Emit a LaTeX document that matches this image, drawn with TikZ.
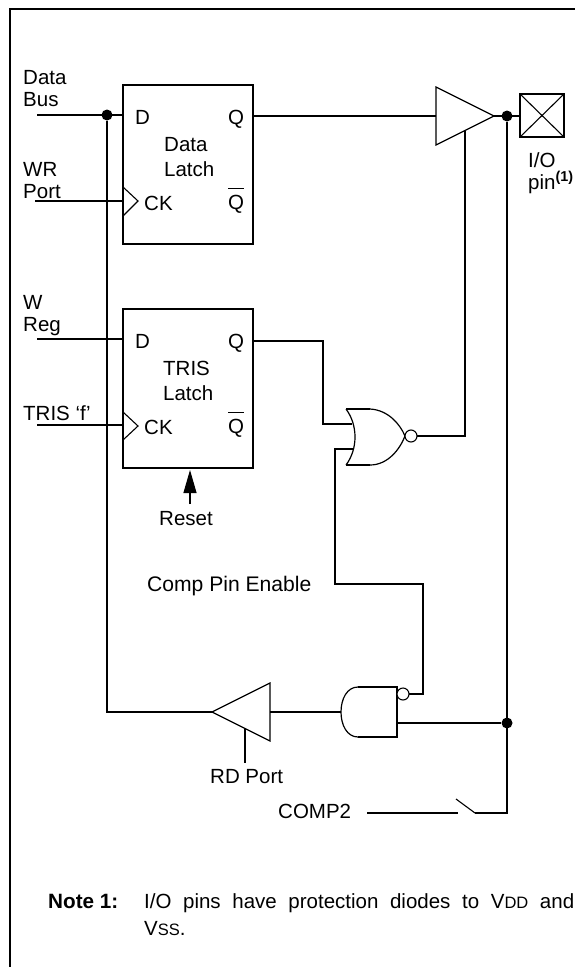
\documentclass[tikz,border=0pt]{standalone}
\usepackage{fontspec}
\setmainfont{Liberation Sans}
\usetikzlibrary{arrows.meta,shapes.geometric}
\newcommand{\qbar}{\rlap{\rule[19.6pt]{16pt}{1.6pt}}Q}
\tikzset{
	wire/.style={line width=2pt,line join=miter},
	gate/.style={line width=1.2pt},
	thinwire/.style={line width=1.1pt},
	latchbox/.style={draw,line width=2pt,minimum width=130pt,minimum height=159pt,inner sep=0pt,outer sep=0pt},
	bufgate/.style={draw,line width=1.2pt,isosceles triangle,isosceles triangle stretches,minimum height=58pt,minimum width=58pt,inner sep=0pt,outer sep=0pt},
	dot/.style={circle,fill=black,inner sep=0pt,minimum size=11pt},
	bubble/.style={circle,draw,fill=white,line width=1.1pt,inner sep=0pt,minimum size=12pt,outer sep=0pt},
	lbl/.style={anchor=base west,inner sep=0pt,font=\fontsize{20.5}{22}\selectfont},
	lbltwo/.style={anchor=north west,inner sep=0pt,align=left,font=\fontsize{20.5}{22}\selectfont}
}
\begin{document}
\begin{tikzpicture} [x=1pt,y=-1pt]
	\useasboundingbox (0,0) rectangle (575,967);
	% frame
	\coordinate (frameright) at (575,9);
	\coordinate (framecorner) at (10,9);
	\coordinate (framebottom) at (10,967);
	\draw [wire] (frameright) -- (framecorner) -- (framebottom);

	% latches
	\node [latchbox] (datalatch) at (188,164.5) {};
	\node [latchbox] (trislatch) at (188,388.5) {};
	\node [lbl] (datad) at (135,124) {D};
	\node [lbl] (dataq) at (228,124) {Q};
	\node [lbl] (datack) at (144,210) {CK};
	\node [lbl] (datanq) at (228,209) {\qbar};
	\node [lbltwo] (dataname) at (164,137) {Data\\[3pt]Latch};
	\node [lbl] (trisd) at (135,348) {D};
	\node [lbl] (trisq) at (228,348) {Q};
	\node [lbl] (trisck) at (144,434) {CK};
	\node [lbl] (trisnq) at (228,433) {\qbar};
	\node [lbltwo] (trisname) at (163,361) {TRIS\\[3pt]Latch};

	% clock marks
	\coordinate (dcktop) at (123,187);
	\coordinate (dcktip) at (138,201);
	\coordinate (dckbot) at (123,216);
	\coordinate (tcktop) at (123,412);
	\coordinate (tcktip) at (138,426);
	\coordinate (tckbot) at (123,440);
	\draw [thinwire] (dcktop) -- (dcktip) -- (dckbot);
	\draw [thinwire] (tcktop) -- (tcktip) -- (tckbot);

	% gates
	\node [bufgate,anchor=apex] (outbuf) at (494,116) {};
	\node [bufgate,shape border rotate=180,anchor=apex] (rdbuf) at (212,712) {};
	\coordinate (nortl) at (346,409);
	\coordinate (nortr) at (370,409);
	\coordinate (nortip) at (405,436);
	\coordinate (norbr) at (370,465);
	\coordinate (norbl) at (346,465);
	\draw [gate] (nortr) .. controls (388,410) and (400,424) .. (nortip) .. controls (400,449) and (388,465) .. (norbr);
	\draw [gate] (norbl) .. controls (358,449) and (358,425) .. (nortl);
	\draw [wire] (nortl) -- (nortr);
	\draw [wire] (norbl) -- (norbr);
	\node [bubble] (norbub) at (411,436) {};
	\coordinate (andtl) at (358,687);
	\coordinate (andtr) at (397,687);
	\coordinate (andbr) at (397,737);
	\coordinate (andbl) at (358,737);
	\coordinate (andin) at (341,712);
	\draw [gate] (andtl) .. controls (347,687) and (341,699) .. (andin) .. controls (341,725) and (347,737) .. (andbl);
	\draw [wire] (andtl) -- (andtr) -- (andbr) -- (andbl);
	\node [bubble] (andbub) at (403,694) {};

	% pin
	\node [draw,line width=2pt,minimum width=44pt,minimum height=43pt,inner sep=0pt,outer sep=0pt] (iopin) at (542,115.5) {};
	\draw [thinwire] (iopin.north west) -- (iopin.south east);
	\draw [thinwire] (iopin.north east) -- (iopin.south west);

	% dots
	\node [dot] (busdot) at (107,115) {};
	\node [dot] (pindot) at (507,116) {};
	\node [dot] (anddot) at (507,723) {};

	% inputs
	\coordinate (busin) at (37,115);
	\coordinate (wrin) at (35,201);
	\coordinate (wregin) at (37,339);
	\coordinate (trisin) at (37,425);
	\draw [wire] (busin) -- (busin -| datalatch.west);
	\draw [wire] (wrin) -- (wrin -| datalatch.west);
	\draw [wire] (wregin) -- (wregin -| trislatch.west);
	\draw [wire] (trisin) -- (trisin -| trislatch.west);
	\draw [wire] (busdot) |- (rdbuf.apex);

	% outputs
	\coordinate (dqout) at (253,116);
	\coordinate (tqout) at (253,341);
	\coordinate (norbend) at (323,341);
	\coordinate (norina) at (352,424);
	\coordinate (norinb) at (353,449);
	\coordinate (enbend) at (335,584);
	\coordinate (enright) at (423,584);
	\coordinate (andout) at (397,723);
	\draw [wire] (dqout) -- (outbuf.lower side);
	\draw [wire] (outbuf.apex) -- (iopin.west |- pindot);
	\draw [wire] (tqout) -- (norbend) |- (norina);
	\draw [wire] (norinb) -| (enbend) -- (enright) |- (andbub.east);
	\draw [wire] (norbub.east) -| (outbuf.right side);
	\draw [wire] (andout) -- (anddot);
	\draw [wire] (andin) -- (rdbuf.lower side);

	% rd enable and reset
	\coordinate (rdtop) at (245,728);
	\coordinate (rdend) at (245,763);
	\draw [wire] (rdtop) -- (rdend);
	\coordinate (resetend) at (190,504);
	\coordinate (resettip) at (190,470);
	\draw [thinwire,-{Triangle[length=23pt,width=13pt]}] (resetend) -- (resettip);

	% comp2 switch
	\coordinate (compin) at (367,813);
	\coordinate (swleft) at (458,813);
	\coordinate (swtop) at (456,799);
	\coordinate (swhinge) at (475,813);
	\coordinate (swright) at (507,813);
	\draw [wire] (compin) -- (swleft);
	\draw [thinwire] (swtop) -- (swhinge);
	\draw [wire] (swhinge) -- (swright) -- (pindot);

	% labels
	\node [lbltwo] (buslbl) at (23,70) {Data\\Bus};
	\node [lbltwo] (wrlbl) at (23,162) {WR\\Port};
	\node [lbltwo] (wreglbl) at (23,295) {W\\Reg};
	\node [lbl] (trislbl) at (23,420) {TRIS ‘f’};
	\node [lbl] (resetlbl) at (159,525) {Reset};
	\node [lbl,font=\fontsize{21.1}{22}\selectfont] (enablelbl) at (147,591) {Comp Pin Enable};
	\node [lbl] (rdlbl) at (210,783) {RD Port};
	\node [lbl] (complbl) at (278,818) {COMP2};
	\node [lbltwo] (pinlbl) at (528,152) {I/O\\pin\textsuperscript{\textbf{(1)}}};
	\node [lbl,font=\fontsize{20.7}{22}\selectfont\bfseries] (notelbl) at (48,908) {Note 1:};
	\node [lbl] (notetext) at (144,908) {\makebox[430pt][s]{I/O pins have protection diodes to V{\fontsize{16.5}{16}\selectfont DD} and}};
	\node [lbl] (notetwo) at (144,935) {V{\fontsize{16.5}{16}\selectfont SS}.};
\end{tikzpicture}
\end{document}
